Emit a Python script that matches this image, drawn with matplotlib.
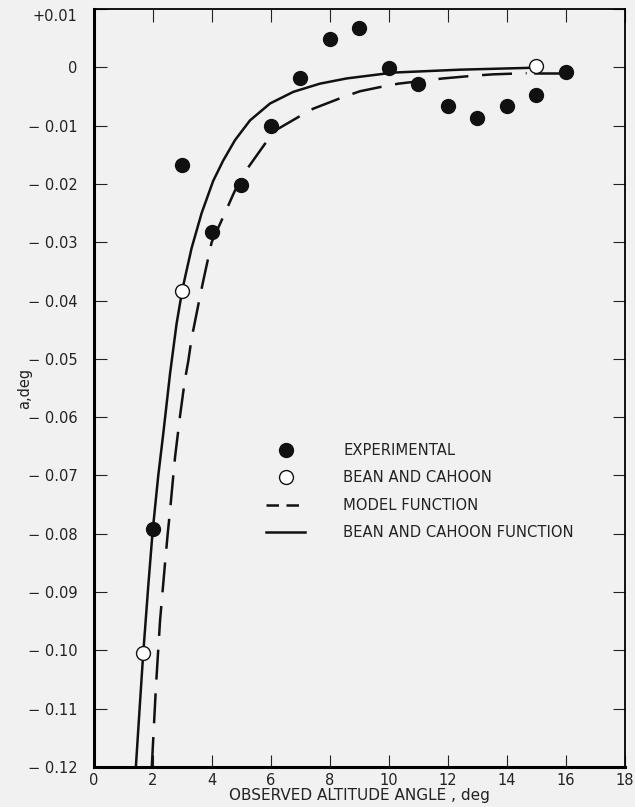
import numpy as np
import matplotlib.pyplot as plt
from matplotlib.lines import Line2D

# experimental points
exp_x = [2, 3, 4, 5, 6, 7, 8, 9, 10, 11, 12, 13, 14, 15, 16]
exp_y = [-0.0791, -0.0168, -0.0283, -0.0202, -0.0101, -0.0018, 0.0049, 0.0067,
         -0.0001, -0.0028, -0.0067, -0.0087, -0.0067, -0.0048, -0.0008]

# Bean and Cahoon points
bc_x = [1.67, 3.0, 15.0]
bc_y = [-0.1005, -0.0383, 0.0003]

# Bean and Cahoon function (solid)
bcf_x = [1.42, 1.56, 1.67, 1.84, 1.99, 2.18, 2.35, 2.58, 2.80, 2.99, 3.08, 3.31, 3.65,
         4.04, 4.38, 4.78, 5.29, 5.97, 6.76, 7.66, 8.57, 10.15, 12.41, 14.67, 15.0]
bcf_y = [-0.1200, -0.1090, -0.1005, -0.0890, -0.0795, -0.0700, -0.0628, -0.0525, -0.0440,
         -0.0383, -0.0362, -0.0310, -0.0250, -0.0195, -0.0160, -0.0125, -0.0091, -0.0062,
         -0.0042, -0.0028, -0.0019, -0.0009, -0.0004, -0.0001, 0.0]

# model function (dashed)
mf_x = [1.96, 2.10, 2.24, 2.41, 2.50, 2.58, 2.69, 2.75, 2.92, 3.08, 3.20, 3.31, 3.59, 3.71,
        3.99, 4.44, 4.72, 5.0, 5.8, 6.19, 7.04, 7.43, 8.45, 9.02, 9.69, 10.32, 11.0, 11.84,
        12.97, 13.54, 14.67]
mf_y = [-0.1200, -0.1063, -0.0949, -0.0850, -0.0800, -0.0760, -0.0700, -0.0668, -0.0597,
        -0.0537, -0.0503, -0.0465, -0.0394, -0.0365, -0.0300, -0.0250, -0.0218, -0.0188,
        -0.0131, -0.0107, -0.0082, -0.0071, -0.0051, -0.0041, -0.0034, -0.0028, -0.0024,
        -0.0019, -0.0014, -0.0012, -0.0010]
# short solid piece at the right end
tail_x = [14.97, 16.0]
tail_y = [-0.0009, -0.0009]

yticks = [0.01, 0.0, -0.01, -0.02, -0.03, -0.04, -0.05, -0.06, -0.07, -0.08, -0.09, -0.10, -0.11, -0.12]
ylabels = ['+0.01', '0', '− 0.01', '− 0.02', '− 0.03', '− 0.04', '− 0.05', '− 0.06', '− 0.07',
           '− 0.08', '− 0.09', '− 0.10', '− 0.11', '− 0.12']
xticks = [0, 2, 4, 6, 8, 10, 12, 14, 16, 18]

plt.rcParams['font.family'] = ['DejaVu Sans']
bg = '#f1f1f1'
ink = '#111111'
fig = plt.figure(figsize=(6.35, 8.07), dpi=100, facecolor=bg)
ax = fig.add_axes([0.148, 0.0496, 0.984 - 0.148, 0.9888 - 0.0496], facecolor=bg)

ax.plot(bcf_x, bcf_y, color=ink, lw=1.8)
ax.plot(mf_x, mf_y, color=ink, lw=1.8, dashes=(12, 5.5))
ax.plot(tail_x, tail_y, color=ink, lw=1.8)

ax.plot(exp_x, exp_y, 'o', ms=10, color=ink, zorder=4)
ax.plot(bc_x, bc_y, 'o', ms=10, mfc='white', mec=ink, mew=1.0, zorder=5)

ax.set_xlim(0, 18)
ax.set_ylim(-0.12, 0.01)
ax.set_yticks(yticks)
ax.set_yticklabels(ylabels)
ax.set_xticks(xticks)
ax.tick_params(direction='in', length=9, width=0.8, top=True, right=True,
               labelsize=10.5, colors='#222222')
ax.tick_params(axis='y', pad=12)
ax.tick_params(axis='x', pad=4)
# top label sits a little below its tick, as in the original
ax.get_yticklabels()[0].set_verticalalignment('top')

for s in ['left', 'bottom']:
    ax.spines[s].set_linewidth(2.2)
for s in ['top', 'right']:
    ax.spines[s].set_linewidth(1.3)

ax.set_xlabel('OBSERVED ALTITUDE ANGLE , deg', fontsize=11, labelpad=0, color='#222222')
ax.set_ylabel('a,deg', fontsize=10.5, color='#222222')
ax.yaxis.set_label_coords(-0.148 + 17 / 635 / 0.836, 0.5)

handles = [
    Line2D([], [], ls='none', marker='o', ms=10, color=ink),
    Line2D([], [], ls='none', marker='o', ms=10, mfc='white', mec=ink, mew=1.0),
    Line2D([], [], color=ink, lw=1.8, dashes=(5, 3)),
    Line2D([], [], color=ink, lw=1.8),
]
labels = ['EXPERIMENTAL', 'BEAN AND CAHOON', 'MODEL FUNCTION', 'BEAN AND CAHOON FUNCTION']
ax.legend(handles, labels, loc='upper left', bbox_to_anchor=(0.3, 0.445), frameon=False,
          fontsize=10.6, handlelength=2.6, handletextpad=2.6, labelspacing=0.85,
          labelcolor='#222222')

fig.savefig('out.png', dpi=100, facecolor=bg)
